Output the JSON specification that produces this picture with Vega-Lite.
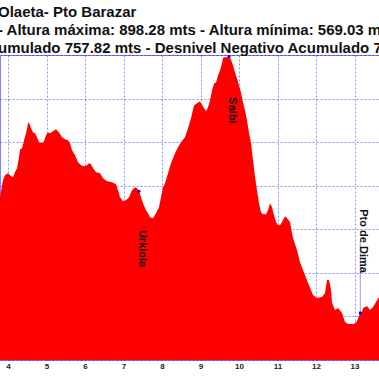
{
  "$schema": "https://vega.github.io/schema/vega-lite/v6.json",
  "width": 379,
  "height": 305,
  "autosize": {"type": "none"},
  "padding": {"top": 55, "left": 0, "right": 0, "bottom": 19},
  "background": "white",
  "title": {
    "text": ["Olaeta- Pto Barazar", "- Altura máxima: 898.28 mts - Altura mínima: 569.03 m", "umulado 757.82 mts - Desnivel Negativo Acumulado 7"],
    "anchor": "start",
    "frame": "group",
    "font": "Liberation Sans",
    "fontWeight": "bold",
    "fontSize": 15,
    "lineHeight": 18,
    "color": "#111111",
    "offset": 3,
    "dx": -2,
    "dy": 4
  },
  "config": {
    "view": {"stroke": "#8080ff", "strokeWidth": 1},
    "axis": {"gridColor": "#0000ff", "gridOpacity": 0.45, "gridDash": [2, 2], "gridWidth": 1, "ticks": false, "domain": false, "title": null, "zindex": 1}
  },
  "datasets": {
    "profile": [
      {"km": 3.792, "alt": 736.8}, {"km": 3.870, "alt": 756.2}, {"km": 3.922, "alt": 762.0}, {"km": 4.000, "alt": 764.2},
      {"km": 4.052, "alt": 762.0}, {"km": 4.130, "alt": 759.7}, {"km": 4.182, "alt": 765.4}, {"km": 4.234, "alt": 770.0},
      {"km": 4.286, "alt": 782.6}, {"km": 4.312, "alt": 791.7}, {"km": 4.364, "alt": 792.9}, {"km": 4.416, "alt": 802.1},
      {"km": 4.468, "alt": 810.1}, {"km": 4.519, "alt": 821.5}, {"km": 4.545, "alt": 822.7}, {"km": 4.597, "alt": 815.8},
      {"km": 4.649, "alt": 811.2}, {"km": 4.701, "alt": 810.1}, {"km": 4.753, "alt": 805.5}, {"km": 4.805, "alt": 799.8},
      {"km": 4.883, "alt": 798.6}, {"km": 4.935, "alt": 800.9}, {"km": 4.987, "alt": 807.8}, {"km": 5.039, "alt": 811.2},
      {"km": 5.091, "alt": 810.1}, {"km": 5.169, "alt": 812.4}, {"km": 5.247, "alt": 814.7}, {"km": 5.325, "alt": 811.2},
      {"km": 5.403, "alt": 805.5}, {"km": 5.481, "alt": 803.2}, {"km": 5.558, "alt": 802.1}, {"km": 5.610, "alt": 798.6},
      {"km": 5.662, "alt": 790.6}, {"km": 5.740, "alt": 784.9}, {"km": 5.818, "alt": 776.8}, {"km": 5.896, "alt": 773.4},
      {"km": 5.974, "alt": 772.3}, {"km": 6.052, "alt": 773.4}, {"km": 6.104, "alt": 775.7}, {"km": 6.156, "alt": 774.6},
      {"km": 6.208, "alt": 770.0}, {"km": 6.286, "alt": 765.4}, {"km": 6.390, "alt": 764.2}, {"km": 6.468, "alt": 758.5},
      {"km": 6.571, "alt": 755.1}, {"km": 6.701, "alt": 753.9}, {"km": 6.805, "alt": 751.6}, {"km": 6.857, "alt": 744.8},
      {"km": 6.909, "alt": 736.8}, {"km": 6.987, "alt": 732.2}, {"km": 7.065, "alt": 733.3}, {"km": 7.143, "alt": 736.8},
      {"km": 7.221, "alt": 744.8}, {"km": 7.299, "alt": 748.2}, {"km": 7.351, "alt": 747.1}, {"km": 7.403, "alt": 743.6},
      {"km": 7.455, "alt": 736.8}, {"km": 7.506, "alt": 729.9}, {"km": 7.584, "alt": 721.9}, {"km": 7.636, "alt": 718.4},
      {"km": 7.688, "alt": 713.8}, {"km": 7.766, "alt": 712.7}, {"km": 7.844, "alt": 718.4}, {"km": 7.922, "alt": 725.3},
      {"km": 7.974, "alt": 736.8}, {"km": 8.026, "alt": 748.2}, {"km": 8.078, "alt": 752.8}, {"km": 8.156, "alt": 764.2},
      {"km": 8.234, "alt": 775.7}, {"km": 8.338, "alt": 787.2}, {"km": 8.416, "alt": 794.0}, {"km": 8.494, "alt": 799.8},
      {"km": 8.597, "alt": 805.5}, {"km": 8.675, "alt": 815.8}, {"km": 8.753, "alt": 827.3}, {"km": 8.831, "alt": 842.1},
      {"km": 8.935, "alt": 845.6}, {"km": 8.987, "alt": 846.7}, {"km": 9.065, "alt": 841.0}, {"km": 9.143, "alt": 835.3},
      {"km": 9.195, "alt": 839.9}, {"km": 9.247, "alt": 847.9}, {"km": 9.299, "alt": 859.3}, {"km": 9.351, "alt": 867.4},
      {"km": 9.403, "alt": 868.5}, {"km": 9.455, "alt": 876.5}, {"km": 9.506, "alt": 882.2}, {"km": 9.558, "alt": 890.3},
      {"km": 9.584, "alt": 896.5}, {"km": 9.636, "alt": 897.6}, {"km": 9.688, "alt": 897.1}, {"km": 9.740, "alt": 898.28},
      {"km": 9.792, "alt": 894.8}, {"km": 9.844, "alt": 888.0}, {"km": 9.896, "alt": 880.0}, {"km": 9.948, "alt": 873.1},
      {"km": 10.000, "alt": 865.1}, {"km": 10.052, "alt": 857.0}, {"km": 10.104, "alt": 845.6}, {"km": 10.156, "alt": 836.4},
      {"km": 10.208, "alt": 825.0}, {"km": 10.260, "alt": 810.1}, {"km": 10.312, "alt": 798.6}, {"km": 10.364, "alt": 779.2},
      {"km": 10.416, "alt": 759.7}, {"km": 10.468, "alt": 744.8}, {"km": 10.519, "alt": 729.9}, {"km": 10.571, "alt": 719.6},
      {"km": 10.623, "alt": 717.3}, {"km": 10.701, "alt": 717.3}, {"km": 10.753, "alt": 721.9}, {"km": 10.805, "alt": 729.9},
      {"km": 10.857, "alt": 725.3}, {"km": 10.909, "alt": 716.1}, {"km": 10.961, "alt": 708.1}, {"km": 11.013, "alt": 704.7},
      {"km": 11.065, "alt": 704.7}, {"km": 11.143, "alt": 710.4}, {"km": 11.195, "alt": 715.0}, {"km": 11.247, "alt": 712.7},
      {"km": 11.325, "alt": 708.1}, {"km": 11.403, "alt": 689.8}, {"km": 11.506, "alt": 676.1}, {"km": 11.584, "alt": 662.3},
      {"km": 11.662, "alt": 653.2}, {"km": 11.792, "alt": 638.3}, {"km": 11.922, "alt": 624.5}, {"km": 12.026, "alt": 621.1},
      {"km": 12.156, "alt": 622.2}, {"km": 12.234, "alt": 626.8}, {"km": 12.286, "alt": 641.7}, {"km": 12.338, "alt": 641.7},
      {"km": 12.390, "alt": 630.2}, {"km": 12.416, "alt": 615.3}, {"km": 12.494, "alt": 607.3}, {"km": 12.571, "alt": 609.6},
      {"km": 12.675, "alt": 603.9}, {"km": 12.753, "alt": 593.6}, {"km": 12.831, "alt": 591.3}, {"km": 12.935, "alt": 591.3},
      {"km": 12.987, "alt": 591.3}, {"km": 13.065, "alt": 594.7}, {"km": 13.143, "alt": 603.9}, {"km": 13.195, "alt": 605.0},
      {"km": 13.221, "alt": 609.6}, {"km": 13.325, "alt": 611.9}, {"km": 13.403, "alt": 607.3}, {"km": 13.481, "alt": 610.7},
      {"km": 13.636, "alt": 622.2}
    ],
    "waypoints": [
      {"name": "Urkiola", "km": 7.40, "alt": 743.6, "label_alt": 677.9},
      {"name": "Saibi", "km": 9.74, "alt": 898.28, "label_alt": 836.3},
      {"name": "Pto de Dima", "km": 13.15, "alt": 604.0, "label_alt": 686.5}
    ]
  },
  "encoding": {
    "x": {
      "field": "km", "type": "quantitative",
      "scale": {"domain": [3.792, 13.636], "nice": false, "zero": false},
      "axis": {"values": [4, 5, 6, 7, 8, 9, 10, 11, 12, 13], "labelFont": "Liberation Sans", "labelFontWeight": "bold", "labelFontSize": 8, "labelColor": "#1a1a3a", "labelPadding": 2, "grid": true}
    },
    "y": {
      "field": "alt", "type": "quantitative",
      "scale": {"domain": [550, 900], "nice": false, "zero": false},
      "axis": {"values": [550, 600, 650, 700, 750, 800, 850, 900], "grid": true, "labels": false}
    }
  },
  "layer": [
    {
      "data": {"name": "waypoints"},
      "mark": {"type": "rule", "color": "#9a9aff", "strokeWidth": 1},
      "encoding": {
        "y2": {"field": "label_alt"}
      }
    },
    {
      "data": {"name": "profile"},
      "mark": {"type": "area", "color": "#ff0000", "clip": true, "interpolate": "linear"},
      "encoding": {}
    },
    {
      "data": {"name": "waypoints"},
      "mark": {"type": "point", "filled": true, "color": "#0000ff", "size": 10, "opacity": 1},
      "encoding": {}
    },
    {
      "data": {"name": "waypoints"},
      "mark": {"type": "text", "angle": 90, "align": "center", "baseline": "middle", "font": "Liberation Sans", "fontWeight": "bold", "fontSize": 11, "color": "#111111", "xOffset": 3},
      "encoding": {
        "y": {"field": "label_alt", "type": "quantitative"},
        "text": {"field": "name"}
      }
    }
  ]
}
